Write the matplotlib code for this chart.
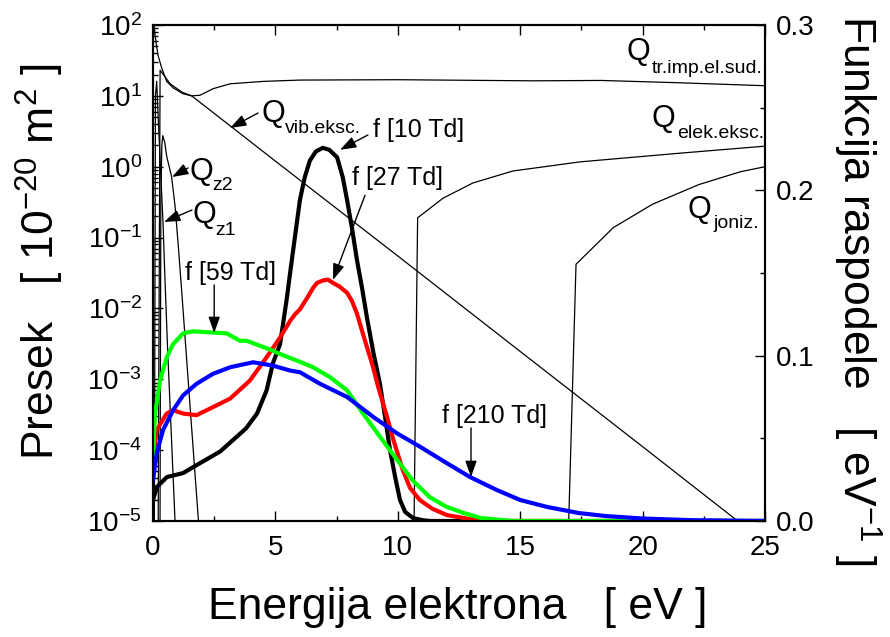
import numpy as np
import matplotlib
matplotlib.use('Agg')
import matplotlib.pyplot as plt
from matplotlib.ticker import (LogLocator, MultipleLocator, FormatStrFormatter,
                               NullFormatter, LogFormatterSciNotation)

plt.rcParams['font.family'] = ['Liberation Sans', 'DejaVu Sans']
plt.rcParams['mathtext.fontset'] = 'custom'
plt.rcParams['mathtext.rm'] = 'Liberation Sans'
plt.rcParams['mathtext.it'] = 'Liberation Sans:italic'
plt.rcParams['mathtext.bf'] = 'Liberation Sans:bold'
plt.rcParams['mathtext.sf'] = 'Liberation Sans'

# ---------------- cross sections (left axis, 1e-20 m^2) ----------------
q_tr_x = [0.02, 0.1, 0.2, 0.35, 0.56, 0.82, 1.23, 1.58, 1.92, 2.45, 3.15, 4.5, 6.0, 10.0, 15.5, 18.3, 21.5, 25.0]
q_tr_y = [120, 65, 38, 25, 16, 13, 10.7, 10.0, 10.2, 12.6, 14.8, 16.0, 16.7, 16.9, 16.3, 16.5, 15.3, 13.9]

q_vib_x = [0.2, 0.29, 0.7, 1.2, 1.58, 5.0, 10.0, 15.0, 20.0, 24.0, 25.0]
q_vib_y = [1e-6, 23, 14.8, 11.2, 10.0, 1.2, 0.055, 2.47e-3, 1.12e-4, 9.3e-6, 4.8e-6]

q_z1_x = [0.05, 0.1, 0.15, 0.25, 0.41, 0.49, 0.6, 0.75, 0.9, 1.0]
q_z1_y = [1e-6, 10.0, 16.0, 2.5, 0.16, 0.025, 2.5e-3, 1.6e-4, 1e-5, 1.5e-6]

q_z2_x = [0.28, 0.32, 0.36, 0.4, 0.48, 0.56, 0.76, 0.9, 1.03, 1.17, 1.35, 1.55, 1.75, 1.9]
q_z2_y = [1e-6, 0.32, 2.0, 2.75, 2.2, 1.4, 0.72, 0.28, 0.079, 0.018, 2.5e-3, 2.8e-4, 3.2e-5, 6.3e-6]

q_el_x = [10.63, 10.81, 11.85, 13.07, 14.7, 17.44, 21.5, 25.0]
q_el_y = [1e-6, 0.19, 0.36, 0.59, 0.87, 1.17, 1.55, 1.95]

q_ion_x = [16.9, 17.28, 18.8, 20.4, 22.3, 24.0, 25.0]
q_ion_y = [1e-6, 0.042, 0.138, 0.295, 0.56, 0.85, 1.0]

# ---------------- distribution functions (right axis, eV^-1) ----------------
f10_x = [0, 0.16, 0.57, 1.23, 1.92, 2.74, 3.27, 3.8, 4.25, 4.64, 4.9, 5.19, 5.47, 5.6, 5.8, 6.0,
         6.2, 6.41, 6.65, 6.94, 7.2, 7.52, 7.75, 7.93, 8.13, 8.33, 8.55, 8.74, 9.0, 9.27, 9.48,
         9.68, 9.9, 10.09, 10.3, 10.62, 11.0, 11.32, 25]
f10_y = [0.0127, 0.0206, 0.0266, 0.029, 0.035, 0.042, 0.049, 0.056, 0.065, 0.079, 0.0955, 0.107,
         0.135, 0.150, 0.172, 0.194, 0.208, 0.218, 0.2235, 0.2257, 0.2245, 0.22, 0.208, 0.194,
         0.177, 0.158, 0.14, 0.123, 0.102, 0.083, 0.063, 0.043, 0.026, 0.0127, 0.0055, 0.0018,
         0.0005, 0, 0]

f27_x = [0, 0.15, 0.56, 0.82, 1.23, 1.78, 2.33, 3.15, 3.96, 4.64, 5.19, 5.6, 5.8, 6.0, 6.3, 6.54,
         6.7, 6.94, 7.15, 7.35, 7.6, 7.93, 8.13, 8.33, 8.6, 8.99, 9.2, 9.56, 9.8, 10.2, 10.5,
         10.9, 11.4, 12, 13.4, 25]
f27_y = [0.036, 0.055, 0.065, 0.067, 0.065, 0.064, 0.068, 0.074, 0.085, 0.099, 0.111, 0.121,
         0.125, 0.128, 0.135, 0.141, 0.144, 0.1455, 0.146, 0.144, 0.142, 0.138, 0.133, 0.1255,
         0.112, 0.093, 0.081, 0.063, 0.05, 0.031, 0.02, 0.0127, 0.0075, 0.0036, 0, 0]

f59_x = [0, 0.08, 0.29, 0.56, 0.82, 1.23, 1.63, 2.45, 3.01, 3.55, 3.83, 4.37, 4.9, 5.19, 5.88,
         6.54, 7.23, 7.93, 8.58, 9.27, 9.97, 10.6, 11.3, 12, 12.7, 13.4, 14.7, 25]
f59_y = [0.037, 0.065, 0.085, 0.099, 0.107, 0.1135, 0.1147, 0.114, 0.1135, 0.109, 0.109, 0.106,
         0.103, 0.101, 0.097, 0.093, 0.087, 0.079, 0.065, 0.051, 0.037, 0.0247, 0.0145, 0.0085,
         0.0048, 0.0018, 0, 0]

f210_x = [0, 0.15, 0.41, 0.82, 1.23, 1.78, 2.45, 3.15, 4.09, 4.9, 5.6, 6.0, 6.82, 7.93, 8.99,
          9.97, 10.9, 12, 12.95, 14.05, 15, 16.1, 17.4, 18.5, 20, 22, 25]
f210_y = [0.0247, 0.041, 0.055, 0.067, 0.076, 0.083, 0.089, 0.093, 0.096, 0.094, 0.091, 0.09,
          0.083, 0.075, 0.063, 0.053, 0.045, 0.035, 0.0266, 0.0187, 0.0127, 0.0085, 0.0048,
          0.003, 0.0015, 0.0005, 0.0]

fig = plt.figure(figsize=(8.9, 6.37), dpi=100)
ax = fig.add_axes([153 / 890, 116 / 637, 612 / 890, 496 / 637])
ax.set_yscale('log')
ax.set_xlim(0, 25)
ax.set_ylim(1e-5, 1e2)

lw_q = 0.9
for xs, ys in [(q_tr_x, q_tr_y), (q_vib_x, q_vib_y), (q_z1_x, q_z1_y), (q_z2_x, q_z2_y),
               (q_el_x, q_el_y), (q_ion_x, q_ion_y)]:
    ax.plot(xs, ys, color='k', lw=lw_q)

ax2 = ax.twinx()
ax2.set_ylim(0, 0.3)
lw_f = 3.0
ax2.plot(f10_x, f10_y, color='k', lw=lw_f, solid_joinstyle='round')
ax2.plot(f27_x, f27_y, color='#ff0000', lw=lw_f, solid_joinstyle='round')
ax2.plot(f59_x, f59_y, color='#00ff00', lw=lw_f, solid_joinstyle='round')
ax2.plot(f210_x, f210_y, color='#0000ff', lw=lw_f, solid_joinstyle='round')

# ticks
ax.xaxis.set_major_locator(MultipleLocator(5))
ax.xaxis.set_minor_locator(MultipleLocator(2.5))
ax.yaxis.set_major_locator(LogLocator(base=10, numticks=20))
ax.yaxis.set_minor_locator(LogLocator(base=10, subs=np.arange(2, 10), numticks=20))
ax.yaxis.set_major_formatter(LogFormatterSciNotation())
ax.yaxis.set_minor_formatter(NullFormatter())
ax.tick_params(axis='both', which='major', direction='in', length=7.5, width=1,
               labelsize=20, top=True, right=False)
ax.tick_params(axis='both', which='minor', direction='in', length=3.5, width=1,
               top=True, right=False)
ax.tick_params(axis='x', which='major', pad=10)
ax.tick_params(axis='y', which='major', pad=8)

ax2.yaxis.set_major_locator(MultipleLocator(0.1))
ax2.yaxis.set_minor_locator(MultipleLocator(0.05))
ax2.yaxis.set_major_formatter(FormatStrFormatter('%.1f'))
ax2.tick_params(axis='y', which='major', direction='in', length=7.5, width=1, labelsize=20, pad=8)
ax2.tick_params(axis='y', which='minor', direction='in', length=3.5, width=1)

for a in (ax, ax2):
    for s in a.spines.values():
        s.set_linewidth(1.5)

# axis labels
fig.text(458 / 890, 1 - 607 / 637, 'Energija elektrona   [ eV ]', fontsize=32,
         ha='center', va='center')
fig.text(40 / 890, 1 - 262 / 637, r'Presek   [ 10$^{-20}$ m$^{2}$ ]', fontsize=32,
         rotation=90, ha='center', va='center')
fig.text(857 / 890, 1 - 290 / 637, r'Funkcija raspodele   [ eV$^{-1}$ ]', fontsize=32,
         rotation=-90, ha='center', va='center')

# arrow style
aprops = dict(arrowstyle='-|>,head_length=0.7,head_width=0.25', color='k', lw=1,
              shrinkA=0, shrinkB=0, mutation_scale=14)

QS, SS = 22, 14
# Q labels (left axis coordinates)
ax.text(19.36, 32.1, 'Q', fontsize=QS, ha='left', va='baseline')
ax.text(20.38, 21.0, 'tr.imp.el.sud.', fontsize=SS, ha='left', va='baseline')
ax.text(20.38, 3.64, 'Q', fontsize=QS, ha='left', va='baseline')
ax.text(21.41, 2.54, 'elek.eksc.', fontsize=SS, ha='left', va='baseline')
ax.text(21.85, 0.189, 'Q', fontsize=QS, ha='left', va='baseline')
ax.text(22.88, 0.136, 'joniz.', fontsize=SS, ha='left', va='baseline')

ax.text(4.45, 4.28, 'Q', fontsize=QS, ha='left', va='baseline')
ax.text(5.39, 2.99, 'vib.eksc.', fontsize=SS, ha='left', va='baseline')
ax.annotate('', xy=(3.15, 10 ** 0.546), xytext=(4.29, 10 ** 0.758), arrowprops=aprops)

ax.text(1.51, 10 ** -0.187, 'Q', fontsize=QS, ha='left', va='baseline')
ax.text(2.41, 10 ** -0.3285, 'z2', fontsize=SS, ha='left', va='baseline')
ax.annotate('', xy=(0.78, 10 ** -0.145), xytext=(1.43, 10 ** -0.018), arrowprops=aprops)

ax.text(1.63, 10 ** -0.794, 'Q', fontsize=QS, ha='left', va='baseline')
ax.text(2.53, 10 ** -0.9636, 'z1', fontsize=SS, ha='left', va='baseline')
ax.annotate('', xy=(0.45, 10 ** -0.78), xytext=(1.59, 10 ** -0.611), arrowprops=aprops)

# f labels (right axis coordinates)
FS = 18
ax2.text(8.99, 0.232, 'f [10 Td]', fontsize=FS, ha='left', va='baseline')
ax2.annotate('', xy=(7.64, 0.2245), xytext=(8.78, 0.2335), arrowprops=aprops)
ax2.text(8.13, 0.2033, 'f [27 Td]', fontsize=FS, ha='left', va='baseline')
ax2.annotate('', xy=(7.35, 0.1458), xytext=(8.66, 0.197), arrowprops=aprops)
ax2.text(1.31, 0.1458, 'f [59 Td]', fontsize=FS, ha='left', va='baseline')
ax2.annotate('', xy=(2.5, 0.1137), xytext=(2.5, 0.1428), arrowprops=aprops)
ax2.text(11.8, 0.0593, 'f [210 Td]', fontsize=FS, ha='left', va='baseline')
ax2.annotate('', xy=(12.99, 0.0266), xytext=(12.99, 0.0563), arrowprops=aprops)

fig.savefig('out.png', dpi=100)
